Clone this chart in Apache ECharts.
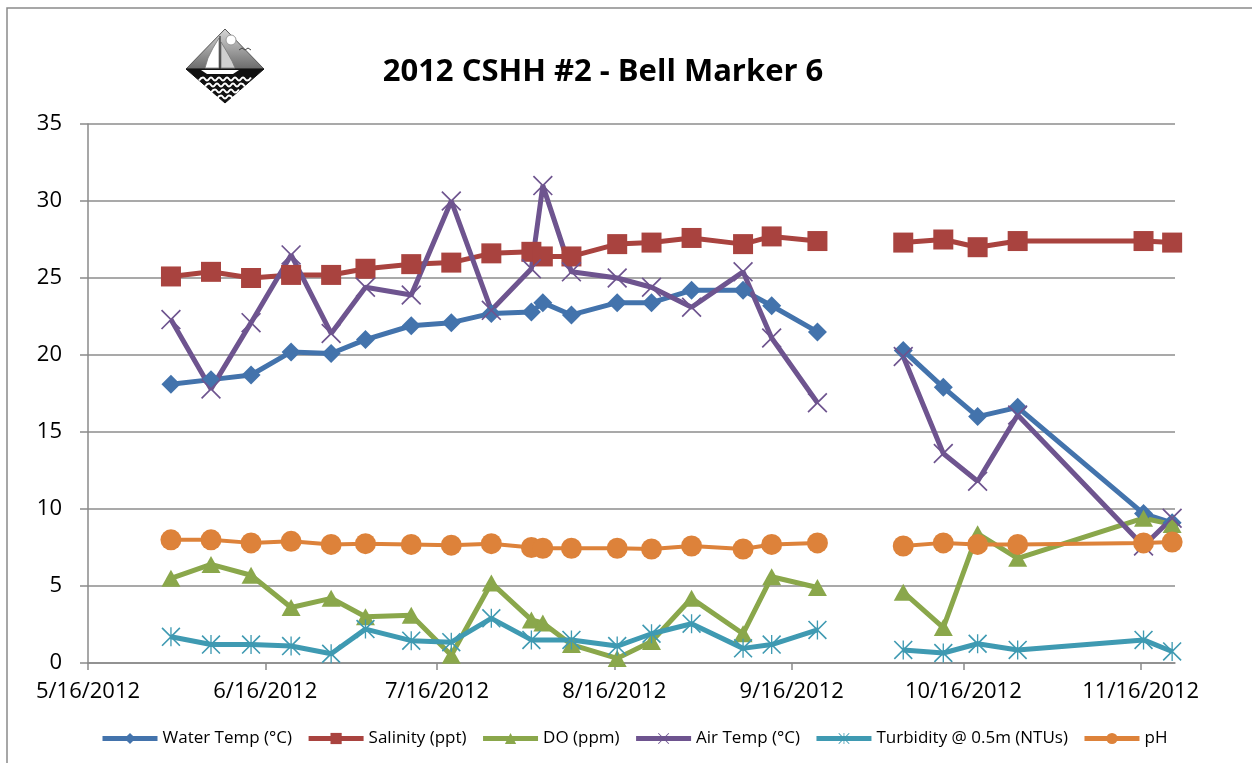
<!DOCTYPE html>
<html>
<head>
<meta charset="utf-8">
<script src="https://cdn.jsdelivr.net/npm/echarts@6/dist/echarts.min.js"></script>
<style>
  html, body { margin: 0; padding: 0; background: #fff; }
  #chart { width: 1252px; height: 763px; }
</style>
</head>
<body>
<div id="chart"></div>
<script>
// ---- data ----
const dates = ['2012-05-30','2012-06-06','2012-06-13','2012-06-20','2012-06-27','2012-07-03','2012-07-11','2012-07-18',
  '2012-07-25','2012-08-01','2012-08-03','2012-08-08','2012-08-16','2012-08-22','2012-08-29','2012-09-07','2012-09-12','2012-09-20',
  '2012-10-05','2012-10-12','2012-10-18','2012-10-25','2012-11-16','2012-11-21'];
const gapAfter = '2012-09-20';   // no samples between this date and the next one
const waterTemp = [18.1,18.4,18.7,20.2,20.1,21.0,21.9,22.1,22.7,22.8,23.4,22.6,23.4,23.4,24.2,24.2,23.2,21.5,20.3,17.9,16.0,16.6,9.7,9.1];
const salinity  = [25.1,25.4,25.0,25.2,25.2,25.6,25.9,26.0,26.6,26.7,26.4,26.4,27.2,27.3,27.6,27.2,27.7,27.4,27.3,27.5,27.0,27.4,27.4,27.3];
const dissolvedO= [5.5,6.4,5.7,3.6,4.2,3.0,3.1,0.5,5.2,2.8,2.6,1.2,0.3,1.4,4.2,1.9,5.6,4.9,4.6,2.3,8.4,6.8,9.4,9.0];
const airTemp   = [22.3,17.8,22.1,26.5,21.4,24.4,23.9,30.0,22.9,25.6,31.0,25.4,25.0,24.4,23.1,25.4,21.1,16.9,19.9,13.6,11.8,16.1,7.6,9.4];
const turbidity = [1.7,1.2,1.2,1.1,0.6,2.2,1.45,1.35,2.9,1.5,null,1.5,1.1,1.9,2.55,0.95,1.2,2.15,0.85,0.65,1.25,0.85,1.5,0.75];
const pH        = [8.0,8.0,7.8,7.9,7.7,7.75,7.7,7.65,7.75,7.5,7.45,7.45,7.45,7.4,7.6,7.4,7.7,7.8,7.6,7.8,7.7,7.7,7.8,7.85];
const seriesNames = ['Water Temp (°C)','Salinity (ppt)','DO (ppm)','Air Temp (°C)','Turbidity @ 0.5m (NTUs)','pH'];
const tickDates = ['2012-05-16','2012-06-16','2012-07-16','2012-08-16','2012-09-16','2012-10-16','2012-11-16'];
const axisStart = '2012-05-16', axisEnd = '2012-11-22';
const yTicks = { min: 0, max: 35, interval: 5 };
const titleText = '2012 CSHH #2 - Bell Marker 6';

// ---- helpers ----
function ts(s, hour) { const p = s.split('-').map(Number); return new Date(p[0], p[1]-1, p[2], hour || 0).getTime(); }
function build(values) {
  const out = [];
  dates.forEach((d, i) => {
    if (values[i] !== null) out.push([ts(d, 12), values[i]]);
    if (d === gapAfter) out.push([ts(d, 12) + 86400000 * 3, null]);
  });
  return out;
}
const colors = ['#4373AC','#A9433F','#8AA74B','#6E548F','#3F9AB2','#DD823A'];
const X_PATH = 'path://M0,1.2L1.2,0L20,18.8L18.8,20Z M18.8,0L20,1.2L1.2,20L0,18.8Z';
const STAR_PATH = 'path://M0,1.2L1.2,0L20,18.8L18.8,20Z M18.8,0L20,1.2L1.2,20L0,18.8Z M9.3,0L10.7,0L10.7,20L9.3,20Z';
const symbols = ['diamond','rect','triangle',X_PATH,STAR_PATH,'circle'];
const symSizes = [19,20,[19,17],20,19,21];
const lineWidths = [5,5,5,5,5,4];
const allValues = [waterTemp, salinity, dissolvedO, airTemp, turbidity, pH];

const series = allValues.map((vals, i) => ({
  name: seriesNames[i],
  type: 'line',
  data: build(vals),
  connectNulls: false,
  symbol: symbols[i],
  symbolSize: symSizes[i],
  showAllSymbol: true,
  lineStyle: { width: lineWidths[i], color: colors[i] },
  itemStyle: { color: colors[i], borderWidth: 0 },
  emphasis: { disabled: true }
}));

const chart = echarts.init(document.getElementById('chart'));
const tickVals = tickDates.map(d => ts(d));
const axisFont = 'Open Sans';

function wave(x0, x1, y) {
  const pts = [];
  for (let x = x0, k = 0; x <= x1; x += 4, k++) pts.push([x, y + (k % 2 ? -1.5 : 1.5)]);
  return { type: 'polyline', shape: { points: pts, smooth: 0.5 }, style: { fill: 'none', stroke: '#fff', lineWidth: 2 } };
}

chart.setOption({
  animation: false,
  color: colors,
  grid: { left: 88, right: 77, top: 124, bottom: 100, containLabel: false },
  xAxis: {
    type: 'value',
    min: ts(axisStart), max: ts(axisEnd),
    axisLine: { show: true, onZero: false, lineStyle: { color: '#8a8a8a', width: 1.5 } },
    axisTick: { show: true, customValues: tickVals, length: 7, lineStyle: { color: '#8a8a8a', width: 1.5 } },
    axisLabel: {
      customValues: tickVals, margin: 18, fontSize: 22, color: '#000', fontFamily: axisFont,
      formatter: v => { const d = new Date(v); return (d.getMonth()+1) + '/' + d.getDate() + '/' + d.getFullYear(); }
    },
    splitLine: { show: false }
  },
  yAxis: {
    type: 'value', min: yTicks.min, max: yTicks.max, interval: yTicks.interval,
    axisLine: { show: true, lineStyle: { color: '#8a8a8a', width: 1.5 } },
    axisTick: { show: true, length: 8, lineStyle: { color: '#8a8a8a', width: 1.5 } },
    axisLabel: { margin: 26, fontSize: 22, color: '#000', fontFamily: axisFont },
    splitLine: { show: true, lineStyle: { color: '#8c8c8c', width: 1.5 } }
  },
  legend: {
    left: 100, top: 730, itemWidth: 55, itemHeight: 14, itemGap: 14, padding: 0,
    lineStyle: { width: 5 },
    textStyle: { fontSize: 17, color: '#000', fontFamily: axisFont },
    data: seriesNames
  },
  graphic: [
    { type: 'rect', silent: true, shape: { x: 7, y: 8, width: 1400, height: 900 },
      style: { fill: 'none', stroke: '#8a8a8a', lineWidth: 1.5 } },
    { type: 'text', x: 603, y: 72, silent: true,
      style: { text: titleText, font: 'bold 31px "Open Sans"', fill: '#000', align: 'center', verticalAlign: 'middle' } },
    { type: 'group', x: 225, y: 66, silent: true, children: [
      { type: 'polygon', shape: { points: [[0,-37],[39,3],[-39,3]] },
        style: { fill: new echarts.graphic.LinearGradient(0,0,0,1,[{offset:0,color:'#d8d8d8'},{offset:1,color:'#6a6a6a'}]), stroke: '#555', lineWidth: 1 } },
      { type: 'polygon', shape: { points: [[-39,3],[39,3],[0,37]] }, style: { fill: '#111', stroke: '#111', lineWidth: 1 } },
      { type: 'circle', shape: { cx: 6, cy: -26, r: 5 }, style: { fill: '#fff', stroke: '#999', lineWidth: 1 } },
      { type: 'polygon', shape: { points: [[-6,-28],[-12,-18],[-17,-8],[-20,2],[-6,2]] }, style: { fill: '#fff', stroke: '#777', lineWidth: 0.8 } },
      { type: 'polygon', shape: { points: [[-4,-24],[2,-14],[7,-5],[10,2],[-4,2]] }, style: { fill: '#d0d0d0', stroke: '#777', lineWidth: 0.8 } },
      { type: 'line', shape: { x1: -5, y1: -30, x2: -5, y2: 3 }, style: { stroke: '#333', lineWidth: 1.2 } },
      { type: 'polygon', shape: { points: [[-24,4],[14,4],[8,8],[-18,8]] }, style: { fill: '#fff' } },
      { type: 'polyline', shape: { points: [[14,-16],[17,-18],[20,-16],[23,-18],[26,-16]] }, style: { fill: 'none', stroke: '#444', lineWidth: 1 } },
      wave(-26, 26, 13),
      wave(-20, 20, 19),
      wave(-14, 14, 25),
      wave(-8, 8, 31)
    ] }
  ],
  series: series
});
</script>
</body>
</html>
